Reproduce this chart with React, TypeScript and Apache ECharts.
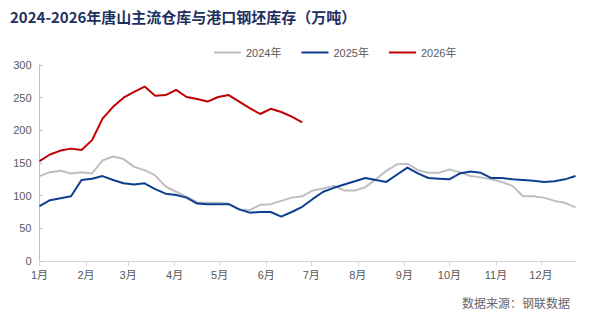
import React, { useEffect, useRef } from "react";
import * as echarts from "echarts";

// Weekly billet stock (10k tonnes), one value per week starting from the first week of January
const legendNames = ["2024年", "2025年", "2026年"];

const stock2024 = [
  130, 136, 138, 134, 136, 134, 154, 160, 156, 144, 139, 131, 114, 106, 98, 90,
  89, 89, 88, 79, 78, 86, 87, 92, 97, 99, 108, 111, 115, 108, 108, 113, 125,
  138, 148, 149, 139, 135, 135, 140, 136, 130, 128, 125, 121, 115, 99, 99, 97,
  92, 89, 82,
];

const stock2025 = [
  84, 93, 96, 99, 124, 126, 130, 124, 119, 117, 119, 110, 103, 101, 97, 88, 87,
  87, 87, 79, 74, 75, 75, 68, 75, 83, 95, 106, 112, 117, 122, 127, 124, 121,
  132, 143, 134, 127, 126, 125, 134, 137, 135, 127, 127, 125, 124, 123, 121,
  122, 125, 130,
];

const stock2026 = [
  153, 163, 169, 172, 170, 185, 218, 236, 250, 259, 267, 253, 254, 262, 251,
  248, 244, 251, 254, 244, 234, 225, 233, 228, 221, 212,
];

const monthLabels = [
  "1月", "2月", "3月", "4月", "5月", "6月",
  "7月", "8月", "9月", "10月", "11月", "12月",
];
// day-of-year on which each month begins
const monthStartDays = [0, 31, 59, 90, 120, 151, 181, 212, 243, 273, 304, 334];

const titleText = "2024-2026年唐山主流仓库与港口钢坯库存（万吨）";
const sourceText = "数据来源：钢联数据";

const DAYS_PER_WEEK = 7;
const toWeekly = (values: number[]) =>
  values.map((v, i) => [i * DAYS_PER_WEEK, v]);

const FONT = '"Liberation Sans", Arial, "Noto Sans CJK SC", sans-serif';
const CJK_FONT = '"Noto Sans CJK SC", sans-serif';

export default function App() {
  const ref = useRef<HTMLDivElement | null>(null);

  useEffect(() => {
    if (!ref.current) return;
    const chart = echarts.init(ref.current, undefined, { renderer: "svg" });
    const lastDay = (stock2024.length - 1) * DAYS_PER_WEEK;
    const colors = ["#BFBFBF", "#0D3F8F", "#C00000"];
    const seriesData = [stock2024, stock2025, stock2026];

    chart.setOption({
      animation: false,
      backgroundColor: "#ffffff",
      title: {
        text: titleText,
        left: 5,
        top: 4,
        textStyle: {
          fontFamily: CJK_FONT,
          fontSize: 15,
          fontWeight: "bold",
          color: "#1F3060",
        },
      },
      legend: {
        left: 209,
        top: 42,
        icon: "rect",
        itemWidth: 27,
        itemHeight: 2,
        itemGap: 20,
        textStyle: { fontFamily: FONT, fontSize: 11, color: "#595959" },
        data: legendNames,
      },
      grid: { left: 39.5, right: 18.5, top: 65, bottom: 67 },
      xAxis: {
        type: "value",
        min: 0,
        max: lastDay,
        axisLine: { show: true, lineStyle: { color: "#D9D9D9", width: 1 } },
        axisTick: {
          show: true,
          customValues: monthStartDays,
          length: 5,
          lineStyle: { color: "#D9D9D9" },
        },
        axisLabel: {
          customValues: monthStartDays,
          formatter: (v: number) => monthLabels[monthStartDays.indexOf(v)] ?? "",
          fontFamily: FONT,
          fontSize: 11,
          color: "#595959",
          margin: 8,
        },
        splitLine: { show: false },
      },
      yAxis: {
        type: "value",
        min: 0,
        max: 300,
        interval: 50,
        axisLine: { show: true, lineStyle: { color: "#BFBFBF", width: 1 } },
        axisTick: {
          show: true,
          inside: true,
          length: 3,
          lineStyle: { color: "#BFBFBF" },
        },
        axisLabel: { fontFamily: FONT, fontSize: 11, color: "#595959", margin: 8 },
        splitLine: { show: false },
      },
      graphic: [
        {
          type: "text",
          right: 24,
          top: 296,
          style: {
            text: sourceText,
            fontFamily: CJK_FONT,
            fontSize: 12,
            fill: "#666666",
          },
        },
      ],
      series: seriesData.map((values, k) => ({
        name: legendNames[k],
        type: "line",
        data: toWeekly(values),
        symbol: "none",
        showSymbol: false,
        lineStyle: { color: colors[k], width: 2 },
        itemStyle: { color: colors[k] },
        z: k + 2,
      })),
    });

    return () => chart.dispose();
  }, []);

  return (
    <div
      ref={ref}
      style={{
        position: "fixed",
        left: 0,
        top: 0,
        width: 594,
        height: 328,
        background: "#ffffff",
      }}
    />
  );
}
